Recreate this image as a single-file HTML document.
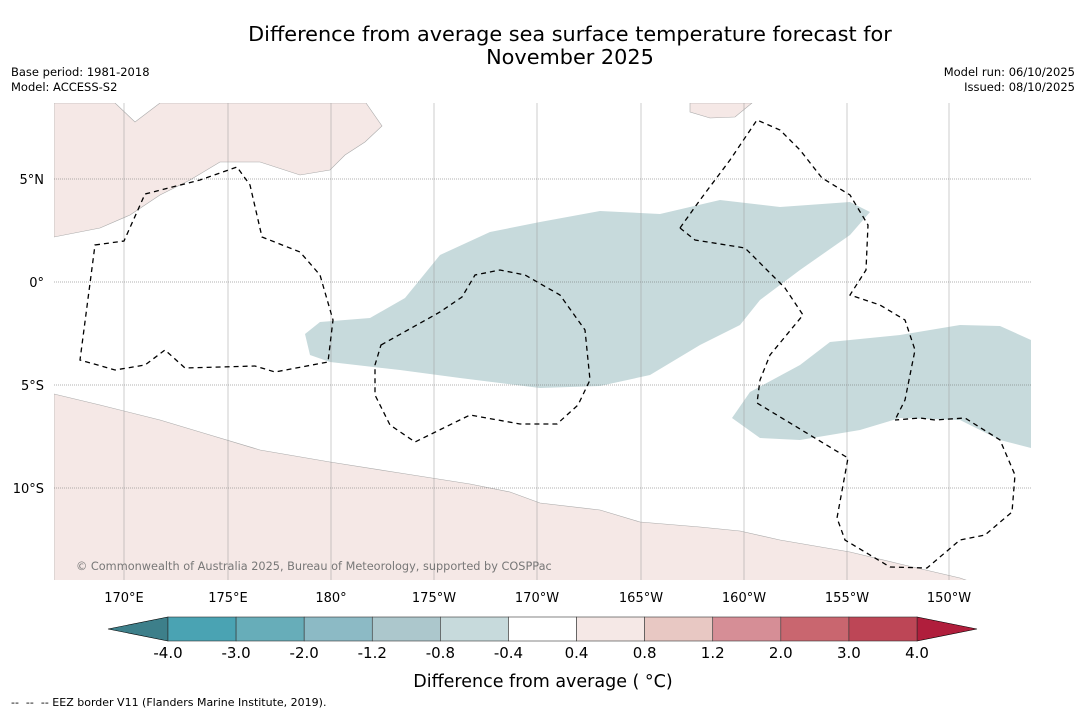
<!DOCTYPE html>
<html><head><meta charset="utf-8"><style>
body{margin:0;background:#fff;font-family:"Liberation Sans","DejaVu Sans",sans-serif;}
svg text{font-family:"DejaVu Sans","Liberation Sans",sans-serif;}
</style></head><body>
<svg width="1085" height="713" viewBox="0 0 1085 713" xmlns="http://www.w3.org/2000/svg">
<rect width="1085" height="713" fill="#fff"/>
<text x="570" y="41" font-size="20.8" text-anchor="middle">Difference from average sea surface temperature forecast for</text>
<text x="570" y="64" font-size="20.8" text-anchor="middle">November 2025</text>
<text x="11" y="76" font-size="11.5">Base period: 1981-2018</text>
<text x="11" y="91" font-size="11.5">Model: ACCESS-S2</text>
<text x="1075" y="76" font-size="11.5" text-anchor="end">Model run: 06/10/2025</text>
<text x="1075" y="91" font-size="11.5" text-anchor="end">Issued: 08/10/2025</text>
<g>
<clipPath id="mc"><rect x="54" y="103" width="977" height="477"/></clipPath>
<g clip-path="url(#mc)">
<path fill="#c7dadc" d="M305,334 L320,322 L370,318 L405,298 L440,255 L490,232 L540,222 L600,211 L660,214 L720,200 L780,207 L850,202 L870,212 L850,235 L800,270 L760,300 L740,325 L700,345 L650,375 L600,386 L540,388 L460,378 L400,370 L330,362 L310,355 Z"/>
<path fill="#c7dadc" d="M732,418 L750,392 L800,365 L830,342 L900,335 L960,325 L1000,326 L1031,340 L1031,448 L1000,440 L960,420 L900,418 L860,430 L800,440 L760,438 Z"/>
<path fill="#f5e8e6" stroke="#aaa" stroke-width="0.6" d="M54,103 L54,237 L100,228 L130,215 L160,195 L190,180 L220,162 L260,162 L300,175 L330,170 L345,155 L365,142 L382,126 L366,103 L160,103 L135,122 L115,103 Z"/>
<path fill="#f5e8e6" stroke="#aaa" stroke-width="0.6" d="M690,103 L690,112 L710,118 L735,117 L752,103 Z"/>
<path fill="#f5e8e6" stroke="#aaa" stroke-width="0.6" d="M54,394 L100,405 L160,420 L210,435 L260,450 L330,462 L400,473 L470,484 L510,492 L540,503 L600,510 L640,522 L700,527 L740,531 L780,540 L850,552 L900,564 L960,578 L980,585 L54,585 Z"/>
<g stroke="#666" stroke-width="0.6" stroke-dasharray="1,1">
<line x1="54" x2="1031" y1="179" y2="179"/><line x1="54" x2="1031" y1="282" y2="282"/><line x1="54" x2="1031" y1="385" y2="385"/><line x1="54" x2="1031" y1="488" y2="488"/>
</g>
<g stroke="#999" stroke-width="0.5">
<line x1="124" x2="124" y1="103" y2="580"/><line x1="228" x2="228" y1="103" y2="580"/><line x1="331" x2="331" y1="103" y2="580"/><line x1="434" x2="434" y1="103" y2="580"/><line x1="537" x2="537" y1="103" y2="580"/><line x1="641" x2="641" y1="103" y2="580"/><line x1="744" x2="744" y1="103" y2="580"/><line x1="847" x2="847" y1="103" y2="580"/><line x1="949" x2="949" y1="103" y2="580"/>
</g>
<g fill="none" stroke="#000" stroke-width="1.3" stroke-dasharray="5,4">
<path d="M95,245 L124,241 L145,194 L200,180 L237,167 L250,185 L262,237 L300,252 L320,275 L333,320 L328,362 L275,372 L255,366 L185,368 L165,350 L145,365 L115,370 L80,360 Z"/>
<path d="M381,345 L440,312 L462,297 L475,275 L500,270 L525,275 L560,295 L585,330 L590,380 L578,405 L557,424 L520,424 L470,415 L415,442 L390,425 L375,395 L375,365 Z"/>
<path d="M680,228 L700,200 L730,160 L757,120 L780,130 L800,150 L822,178 L850,195 L868,225 L866,270 L850,295 L880,305 L905,320 L915,350 L905,400 L895,420"/>
<path d="M680,228 L695,240 L745,248 L785,288 L803,315 L770,355 L760,380 L757,403 L848,458 L837,518 L845,540 L890,567 L927,568 L960,540 L985,535 L1012,512 L1015,475 L1000,440 L965,418 L935,420 L920,418 L895,420"/>
</g>
<text x="76" y="570" font-size="11.3" fill="#777">© Commonwealth of Australia 2025, Bureau of Meteorology, supported by COSPPac</text>
</g>
</g>
<g font-size="13" text-anchor="end">
<text x="44" y="184">5°N</text><text x="44" y="287">0°</text><text x="44" y="390">5°S</text><text x="44" y="493">10°S</text>
</g>
<g font-size="13" text-anchor="middle">
<text x="124" y="602">170°E</text><text x="228" y="602">175°E</text><text x="331" y="602">180°</text><text x="434" y="602">175°W</text><text x="537" y="602">170°W</text><text x="641" y="602">165°W</text><text x="744" y="602">160°W</text><text x="847" y="602">155°W</text><text x="949" y="602">150°W</text>
</g>
<g id="cbar"></g>
<text x="543" y="687" font-size="17.5" text-anchor="middle" xml:space="preserve">Difference from average ( °C)</text>
<text x="11" y="706" font-size="11" xml:space="preserve">--  --  -- EEZ border V11 (Flanders Marine Institute, 2019).</text>
</svg>
<script>
const cbColors=["#4aa3b3","#67adb9","#8cbac5","#acc7cc","#c7dadc","#ffffff","#f5e8e6","#e8c8c3","#d68e96","#c9666f","#bd4656"];
const cbTicks=["-4.0","-3.0","-2.0","-1.2","-0.8","-0.4","0.4","0.8","1.2","2.0","3.0","4.0"];
const g=document.getElementById('cbar');const ns="http://www.w3.org/2000/svg";
const x0=168,x1=917,y0=617,y1=641,w=(x1-x0)/cbColors.length;
function mk(t,a){const e=document.createElementNS(ns,t);for(const k in a)e.setAttribute(k,a[k]);g.appendChild(e);return e;}
let l=mk('polygon',{points:`108,629 ${x0},${y0} ${x0},${y1}`,fill:'#3d7f8a',stroke:'#000','stroke-width':0.6});


let r=mk('polygon',{points:`977,629 ${x1},${y0} ${x1},${y1}`,fill:'#b01e3c',stroke:'#000','stroke-width':0.6});


cbColors.forEach((c,i)=>{const e=mk('rect',{x:x0+i*w,y:y0,width:w,height:y1-y0,fill:c,stroke:'#333','stroke-width':0.6});

});
cbTicks.forEach((t,i)=>{const e=mk('text',{x:x0+i*w,y:658,'font-size':15,'text-anchor':'middle'});e.textContent=t;

});
</script>
</body></html>
